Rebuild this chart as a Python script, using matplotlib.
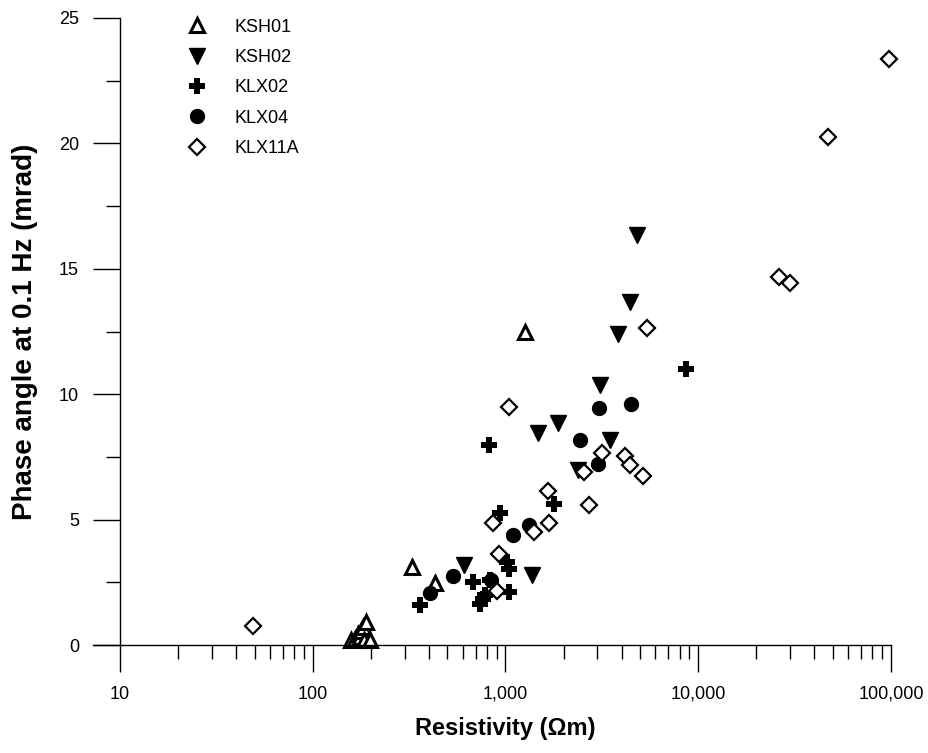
import matplotlib
matplotlib.use("Agg")
import matplotlib.pyplot as plt
from matplotlib.ticker import FixedLocator, FuncFormatter, MultipleLocator, LogLocator, NullFormatter

plt.rcParams['font.family'] = ['Liberation Sans', 'DejaVu Sans']

# ---- data (resistivity in ohm-m, phase angle in mrad) ----
ksh01_res = [157, 165, 172, 175, 178, 183, 185, 190, 197, 327, 432, 1265]
ksh01_phase = [0.2, 0.25, 0.45, 0.3, 0.55, 0.7, 0.2, 0.93, 0.2, 3.1, 2.46, 12.5]

ksh02_res = [606, 1370, 1466, 1880, 2390, 3100, 3480, 3820, 4430, 4830]
ksh02_phase = [3.2, 2.8, 8.47, 8.84, 6.98, 10.37, 8.17, 12.4, 13.69, 16.35]

klx02_res = [361, 678, 740, 760, 785, 833, 824, 931, 1016, 1038, 1038, 1775, 8630]
klx02_phase = [1.59, 2.5, 1.65, 1.85, 2.0, 2.6, 7.98, 5.25, 3.32, 3.02, 2.13, 5.62, 11.0]

klx04_res = [407, 533, 840, 1099, 1331, 2440, 3030, 3060, 4490]
klx04_phase = [2.06, 2.75, 2.6, 4.39, 4.78, 8.17, 7.22, 9.44, 9.6]

klx11a_res = [49, 866, 902, 927, 1045, 1412, 1670, 1683, 2560, 2720, 3160, 4180,
              4400, 5190, 5410, 26200, 30100, 47000, 98000]
klx11a_phase = [0.77, 4.88, 2.17, 3.62, 9.5, 4.52, 6.14, 4.88, 6.91, 5.58, 7.64, 7.54,
                7.18, 6.74, 12.63, 14.66, 14.42, 20.25, 23.35]

x_ticks = [10, 100, 1000, 10000, 100000]
y_ticks = [0, 5, 10, 15, 20, 25]

fig = plt.figure(figsize=(9.29, 7.53), dpi=100)
ax = fig.add_axes([120/929, 108/753, 771/929, 627/753])

ms = 10
ax.plot(ksh01_res, ksh01_phase, linestyle='none', marker='^', markersize=ms,
        markerfacecolor='white', markeredgecolor='black', markeredgewidth=2.2,
        label='KSH01', clip_on=False)
ax.plot(ksh02_res, ksh02_phase, linestyle='none', marker='v', markersize=ms+1,
        color='black', label='KSH02', clip_on=False)
ax.plot(klx02_res, klx02_phase, linestyle='none', marker='P', markersize=ms+1.5,
        color='black', markeredgewidth=0, label='KLX02', clip_on=False)
ax.plot(klx04_res, klx04_phase, linestyle='none', marker='o', markersize=ms,
        color='black', label='KLX04', clip_on=False)
ax.plot(klx11a_res, klx11a_phase, linestyle='none', marker='D', markersize=ms*0.78,
        markerfacecolor='white', markeredgecolor='black', markeredgewidth=1.6,
        label='KLX11A', clip_on=False)

ax.set_xscale('log')
ax.set_xlim(10, 100000)
ax.set_ylim(0, 25)

ax.xaxis.set_major_locator(FixedLocator(x_ticks))
ax.xaxis.set_minor_locator(LogLocator(base=10, subs=range(2, 10), numticks=20))
ax.xaxis.set_major_formatter(FuncFormatter(lambda v, p: f"{v:,.0f}"))
ax.xaxis.set_minor_formatter(NullFormatter())
ax.yaxis.set_major_locator(FixedLocator(y_ticks))
ax.yaxis.set_minor_locator(MultipleLocator(2.5))

for s in ['top', 'right']:
    ax.spines[s].set_visible(False)
for s in ['left', 'bottom']:
    ax.spines[s].set_linewidth(1.0)

# extend baseline to the left to meet the y tick marks
ax.plot([-27/771, 0], [0, 0], transform=ax.transAxes, color='black', lw=1.0, clip_on=False)

ax.tick_params(axis='both', which='major', direction='out', length=19.5, width=1.0,
               labelsize=13, pad=10, colors='black')
ax.tick_params(axis='both', which='minor', direction='out', length=10, width=1.0)

ax.set_xlabel('Resistivity (\u03a9m)', fontsize=17, fontweight='bold', labelpad=10)
ax.set_ylabel('Phase angle at 0.1 Hz (mrad)', fontsize=20, fontweight='bold', labelpad=15)

leg = ax.legend(loc='upper left', bbox_to_anchor=(0.088, 0.999), frameon=False,
                fontsize=13, handletextpad=1.6, labelspacing=0.74, handlelength=1.0,
                borderaxespad=0, borderpad=0)

fig.savefig('out.png', dpi=100)
